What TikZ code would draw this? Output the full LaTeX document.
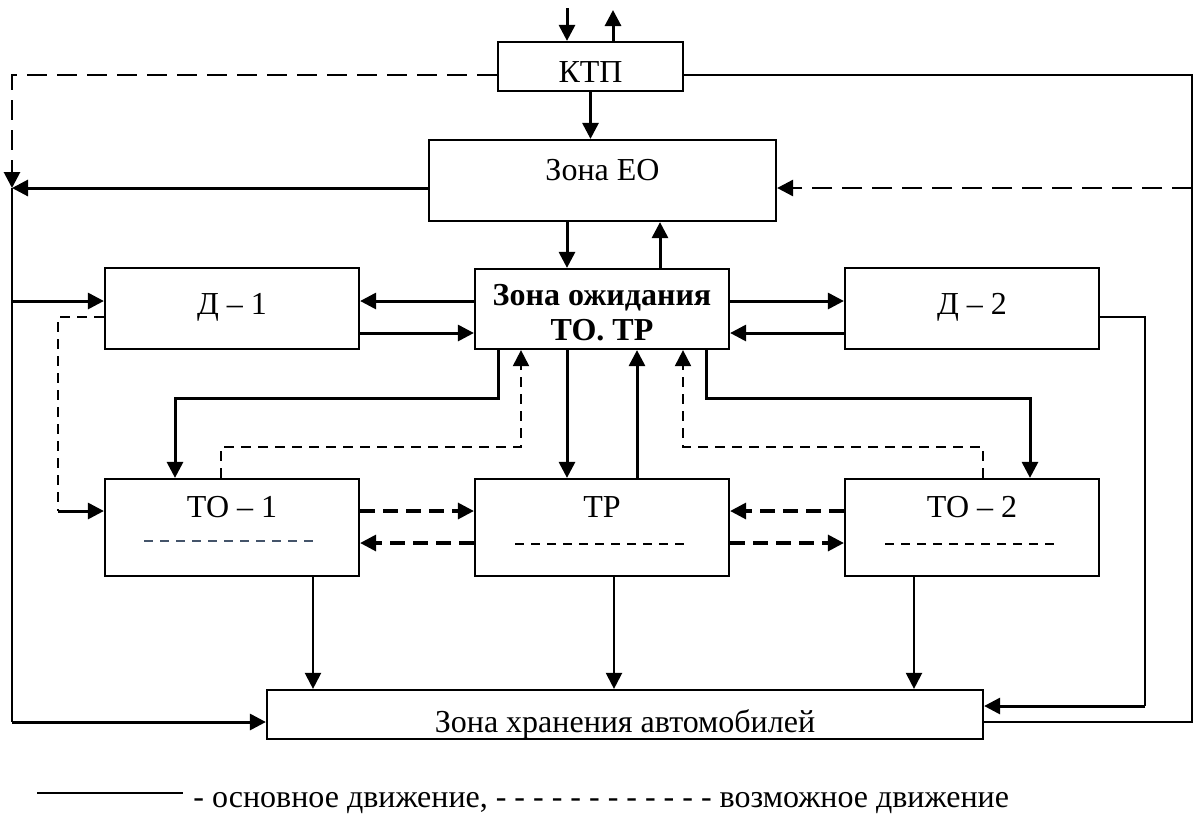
\documentclass[tikz,border=0pt]{standalone}
\usepackage{fontspec}
\setmainfont{Liberation Serif}
\usetikzlibrary{arrows.meta}

\definecolor{innerblue}{HTML}{44546A}
\tikzset{
  blk/.style={draw, line width=1.1pt, inner sep=0pt},
  lbl/.style={anchor=base, inner sep=0pt},
  main/.style={line width=1.5pt},
  thinl/.style={line width=0.9pt},
  ahead/.style={-{Triangle[length=8pt, width=8pt]}},
  arr/.style={main, ahead},
  arrthin/.style={line width=1.1pt, ahead},
  dlong/.style={line width=1.4pt, dash pattern=on 10pt off 5pt},
  dmid/.style={line width=1.6pt, dash pattern=on 7.5pt off 4pt},
  dthin/.style={line width=1pt, dash pattern=on 5pt off 3.5pt},
  dinner/.style={line width=1pt, dash pattern=on 4.5pt off 3.5pt}
}

\begin{document}
\begin{tikzpicture}[x=0.5pt, y=-0.5pt, font=\fontsize{16}{19}\selectfont]
  \useasboundingbox (0,0) rectangle (1195,816);
  % boxes
  \node[blk, minimum width=92.5pt, minimum height=24.5pt] (ktp) at (590.5,66.5) {};
  \node[blk, minimum width=173.5pt, minimum height=40.5pt] (eo) at (602.5,180.5) {};
  \node[blk, minimum width=127pt, minimum height=40.5pt] (d1) at (232,308.5) {};
  \node[blk, minimum width=127pt, minimum height=40pt] (wait) at (602,309) {};
  \node[blk, minimum width=127pt, minimum height=40.5pt] (d2) at (972,308.5) {};
  \node[blk, minimum width=127pt, minimum height=48.5pt] (to1) at (232,527.5) {};
  \node[blk, minimum width=127pt, minimum height=48.5pt] (tp) at (602,527.5) {};
  \node[blk, minimum width=127pt, minimum height=48.5pt] (to2) at (972,527.5) {};
  \node[blk, minimum width=358pt, minimum height=24.5pt] (stor) at (625,714.5) {};
  % texts
  \node[lbl] (ktpT) at (590.5,82) {КТП};
  \node[lbl] (eoT) at (602.5,180) {Зона ЕО};
  \node[lbl] (d1T) at (232,314) {Д – 1};
  \node[lbl] (d2T) at (972,314) {Д – 2};
  \node[lbl, font=\fontsize{16}{19}\selectfont\bfseries] (waitA) at (602,305) {Зона ожидания};
  \node[lbl, font=\fontsize{16}{19}\selectfont\bfseries] (waitB) at (602,340) {ТО. ТР};
  \node[lbl] (to1T) at (232,517) {ТО – 1};
  \node[lbl] (tpT) at (602,517) {ТР};
  \node[lbl] (to2T) at (972,517) {ТО – 2};
  \node[lbl] (storT) at (625,732) {Зона хранения автомобилей};
  \draw[dinner, draw=innerblue] (144,541) -- (320,541);
  \draw[dinner] (515,544) -- (689,544);
  \draw[dinner] (885,544) -- (1059,544);
  % points
  \coordinate (inA) at (567,8);
  \coordinate (outA) at (613,10);
  \coordinate (lt) at (12,75);
  \coordinate (lm) at (12,188);
  \coordinate (ld1) at (12,301);
  \coordinate (lb) at (12,722);
  \coordinate (rt) at (1192,75);
  \coordinate (rm) at (1192,188);
  \coordinate (rb) at (1192,722);
  \coordinate (xa) at (567,0);
  \coordinate (xb) at (660,0);
  \coordinate (xt) at (637,0);
  \coordinate (yU) at (0,301);
  \coordinate (yL) at (0,333);
  \coordinate (yA) at (0,511);
  \coordinate (yB) at (0,543);
  \coordinate (k1) at (498,398);
  \coordinate (k2) at (175,398);
  \coordinate (k3) at (706,398);
  \coordinate (k4) at (1030,398);
  \coordinate (m1) at (221,447);
  \coordinate (m2) at (521,447);
  \coordinate (m3) at (983,447);
  \coordinate (m4) at (683,447);
  \coordinate (n1) at (58,317);
  \coordinate (n2) at (58,511);
  \coordinate (p1) at (1145,317);
  \coordinate (p2) at (1145,706);
  \coordinate (s1) at (313,0);
  \coordinate (s2) at (614,0);
  \coordinate (s3) at (914,0);
  % connectors
  \draw[arr] (inA) -- (inA |- ktp.north);
  \draw[arr] (outA |- ktp.north) -- (outA);
  \draw[arr] (ktp.south) -- (ktp.south |- eo.north);
  \draw[dlong, ahead] (lt -| ktp.west) -- (lt) -- (lm);
  \draw[arr] (lm -| eo.west) -- (lm);
  \draw[thinl] (lm) -- (lb);
  \draw[arr] (ld1) -- (ld1 -| d1.west);
  \draw[arr] (lb) -- (lb -| stor.west);
  \draw[thinl] (lt -| ktp.east) -- (rt) -- (rb) -- (rb -| stor.east);
  \draw[dlong, ahead] (rm) -- (rm -| eo.east);
  \draw[arr] (eo.south -| xa) -- (wait.north -| xa);
  \draw[arr] (wait.north -| xb) -- (eo.south -| xb);
  \draw[arr] (wait.west |- yU) -- (d1.east |- yU);
  \draw[arr] (d1.east |- yL) -- (wait.west |- yL);
  \draw[arr] (wait.east |- yU) -- (d2.west |- yU);
  \draw[arr] (d2.west |- yL) -- (wait.east |- yL);
  \draw[dthin] (n1 -| d1.west) -- (n1) -- (n2);
  \draw[arr] (n2) -- (n2 -| to1.west);
  \draw[arr] (k1 |- wait.south) -- (k1) -- (k2) -- (k2 |- to1.north);
  \draw[dthin, ahead] (m1 |- to1.north) -- (m1) -- (m2) -- (m2 |- wait.south);
  \draw[arr] (wait.south -| xa) -- (tp.north -| xa);
  \draw[arr] (tp.north -| xt) -- (wait.south -| xt);
  \draw[dthin, ahead] (m3 |- to2.north) -- (m3) -- (m4) -- (m4 |- wait.south);
  \draw[arr] (k3 |- wait.south) -- (k3) -- (k4) -- (k4 |- to2.north);
  \draw[dmid, ahead] (to1.east |- yA) -- (tp.west |- yA);
  \draw[dmid, ahead] (tp.west |- yB) -- (to1.east |- yB);
  \draw[dmid, ahead] (to2.west |- yA) -- (tp.east |- yA);
  \draw[dmid, ahead] (tp.east |- yB) -- (to2.west |- yB);
  \draw[thinl] (p1 -| d2.east) -- (p1) -- (p2);
  \draw[arr] (p2) -- (p2 -| stor.east);
  \draw[arrthin] (to1.south -| s1) -- (stor.north -| s1);
  \draw[arrthin] (tp.south -| s2) -- (stor.north -| s2);
  \draw[arrthin] (to2.south -| s3) -- (stor.north -| s3);
  % legend
  \coordinate (lgA) at (37,793);
  \coordinate (lgB) at (183,793);
  \draw[line width=1pt] (lgA) -- (lgB);
  \node[anchor=base west, inner sep=0pt] (lgT) at (193,807) {- основное движение, - - - - - - - - - - - - возможное движение};
\end{tikzpicture}
\end{document}
